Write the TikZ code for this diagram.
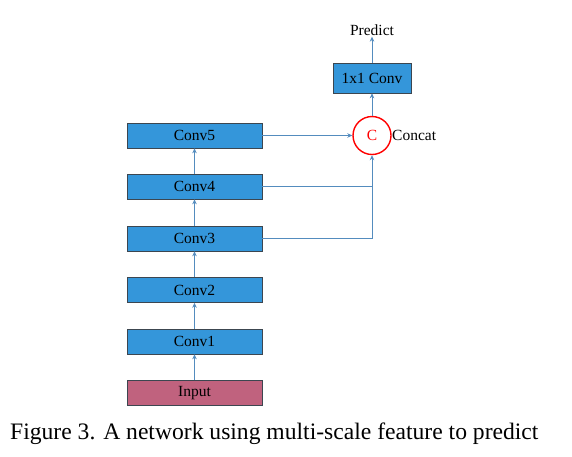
\documentclass[tikz,border=0pt]{standalone}
\usepackage{fontspec}
\setmainfont{Liberation Serif}
\usetikzlibrary{arrows.meta}
\definecolor{boxblue}{RGB}{52,150,218}
\definecolor{inpink}{RGB}{192,98,126}
\definecolor{linkblue}{RGB}{84,140,190}
\definecolor{edgegray}{RGB}{60,70,80}
\begin{document}
\begin{tikzpicture}[x=1pt,y=-1pt,
  layer/.style={draw=edgegray,line width=0.6pt,fill=boxblue,minimum width=135pt,minimum height=25pt,inner sep=0pt,font=\fontsize{15.5}{18}\selectfont},
  link/.style={draw=linkblue,line width=0.8pt},
  arr/.style={link,-{Stealth[length=5pt,width=4.5pt]}}]
\useasboundingbox (0,0) rectangle (572,456);
\node[layer] (c5) at (194.5,135.5) {Conv5};
\node[layer] (c4) at (194.5,186.5) {Conv4};
\node[layer] (c3) at (194.5,238.5) {Conv3};
\node[layer] (c2) at (194.5,290) {Conv2};
\node[layer] (c1) at (194.5,341.5) {Conv1};
\node[layer,fill=inpink] (in) at (194.5,393) {Input};
\node[draw=red,line width=1.4pt,circle,minimum size=38pt,inner sep=0pt,text=red,font=\fontsize{15.5}{18}\selectfont] (cat) at (372,135.5) {C};
\node[anchor=west,inner sep=0pt,font=\fontsize{15.5}{18}\selectfont] (catl) at (392,135.5) {Concat};
\node[layer,minimum width=78pt,minimum height=30pt] (conv) at (372,78) {1x1 Conv};
\node[inner sep=1pt,font=\fontsize{15.5}{18}\selectfont] (pred) at (372,30) {Predict};
\node[anchor=west,inner sep=0pt,font=\fontsize{23.6}{27}\selectfont] (cap) at (10,434) {Figure 3. A network using multi-scale feature to predict};
\coordinate (j4) at (372,186.5);
\coordinate (j3) at (372,238.5);
\draw[arr] (in) -- (c1);
\draw[arr] (c1) -- (c2);
\draw[arr] (c2) -- (c3);
\draw[arr] (c3) -- (c4);
\draw[arr] (c4) -- (c5);
\draw[arr] (c5) -- (cat);
\draw[link] (c4.east) -- (j4);
\draw[link] (c3.east) -- (j3);
\draw[arr] (j3) -- (cat);
\draw[arr] (cat) -- (conv);
\draw[arr] (conv) -- (pred);
\end{tikzpicture}
\end{document}
